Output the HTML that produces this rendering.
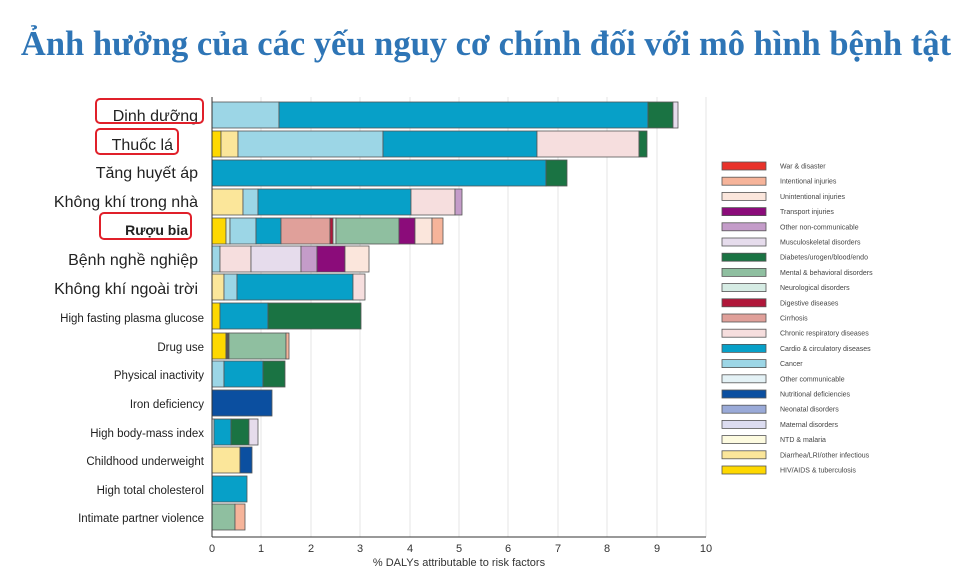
<!DOCTYPE html>
<html><head><meta charset="utf-8"><style>
body{margin:0;background:#fff;width:980px;height:578px;overflow:hidden}
svg{display:block}
</style></head><body>
<svg width="980" height="578" xmlns="http://www.w3.org/2000/svg" font-family="Liberation Sans, sans-serif">
<text x="486" y="55" text-anchor="middle" font-family="Liberation Serif, serif" font-weight="bold" font-size="34.5" fill="#2e75b6">Ảnh hưởng của các yếu nguy cơ chính đối với mô hình bệnh tật</text>
<g stroke="#e4e4e4" stroke-width="1">
<line x1="261" y1="97" x2="261" y2="537"/><line x1="311" y1="97" x2="311" y2="537"/><line x1="360" y1="97" x2="360" y2="537"/><line x1="410" y1="97" x2="410" y2="537"/><line x1="459" y1="97" x2="459" y2="537"/><line x1="508" y1="97" x2="508" y2="537"/><line x1="558" y1="97" x2="558" y2="537"/><line x1="607" y1="97" x2="607" y2="537"/><line x1="657" y1="97" x2="657" y2="537"/><line x1="706" y1="97" x2="706" y2="537"/>
</g>
<g stroke="#555" stroke-width="0.8">
<rect x="212" y="102" width="67" height="26" fill="#9cd6e6"/><rect x="279" y="102" width="369" height="26" fill="#07a0c8"/><rect x="648" y="102" width="25" height="26" fill="#1a7343"/><rect x="673" y="102" width="5" height="26" fill="#e6dcec"/>
<rect x="212" y="131" width="9" height="26" fill="#fed800"/><rect x="221" y="131" width="17" height="26" fill="#fbe69a"/><rect x="238" y="131" width="145" height="26" fill="#9cd6e6"/><rect x="383" y="131" width="154" height="26" fill="#07a0c8"/><rect x="537" y="131" width="102" height="26" fill="#f6dede"/><rect x="639" y="131" width="8" height="26" fill="#1a7343"/>
<rect x="212" y="160" width="334" height="26" fill="#07a0c8"/><rect x="546" y="160" width="21" height="26" fill="#1a7343"/>
<rect x="212" y="189" width="31" height="26" fill="#fbe69a"/><rect x="243" y="189" width="15" height="26" fill="#9cd6e6"/><rect x="258" y="189" width="153" height="26" fill="#07a0c8"/><rect x="411" y="189" width="44" height="26" fill="#f6dede"/><rect x="455" y="189" width="7" height="26" fill="#c49cc9"/>
<rect x="212" y="218" width="14" height="26" fill="#fed800"/><rect x="226" y="218" width="4" height="26" fill="#d6ece4"/><rect x="230" y="218" width="26" height="26" fill="#9cd6e6"/><rect x="256" y="218" width="25" height="26" fill="#07a0c8"/><rect x="281" y="218" width="49" height="26" fill="#e0a09a"/><rect x="330" y="218" width="3" height="26" fill="#b0173a"/><rect x="333" y="218" width="3" height="26" fill="#d6ece4"/><rect x="336" y="218" width="63" height="26" fill="#8fbfa0"/><rect x="399" y="218" width="16" height="26" fill="#8b0c7a"/><rect x="415" y="218" width="17" height="26" fill="#fbe6dc"/><rect x="432" y="218" width="11" height="26" fill="#f6b49a"/>
<rect x="212" y="246" width="8" height="26" fill="#9cd6e6"/><rect x="220" y="246" width="31" height="26" fill="#f6dede"/><rect x="251" y="246" width="50" height="26" fill="#e6dcec"/><rect x="301" y="246" width="16" height="26" fill="#c49cc9"/><rect x="317" y="246" width="28" height="26" fill="#8b0c7a"/><rect x="345" y="246" width="24" height="26" fill="#fbe6dc"/>
<rect x="212" y="274" width="12" height="26" fill="#fbe69a"/><rect x="224" y="274" width="13" height="26" fill="#9cd6e6"/><rect x="237" y="274" width="116" height="26" fill="#07a0c8"/><rect x="353" y="274" width="12" height="26" fill="#f6dede"/>
<rect x="212" y="303" width="8" height="26" fill="#fed800"/><rect x="220" y="303" width="48" height="26" fill="#07a0c8"/><rect x="268" y="303" width="93" height="26" fill="#1a7343"/>
<rect x="212" y="333" width="14" height="26" fill="#fed800"/><rect x="226" y="333" width="3" height="26" fill="#555"/><rect x="229" y="333" width="57" height="26" fill="#8fbfa0"/><rect x="286" y="333" width="3" height="26" fill="#f6b49a"/>
<rect x="212" y="361" width="12" height="26" fill="#9cd6e6"/><rect x="224" y="361" width="39" height="26" fill="#07a0c8"/><rect x="263" y="361" width="22" height="26" fill="#1a7343"/>
<rect x="212" y="390" width="60" height="26" fill="#0b4fa0"/>
<rect x="212" y="419" width="2" height="26" fill="#e4f2f6"/><rect x="214" y="419" width="17" height="26" fill="#07a0c8"/><rect x="231" y="419" width="18" height="26" fill="#1a7343"/><rect x="249" y="419" width="9" height="26" fill="#e6dcec"/>
<rect x="212" y="447" width="28" height="26" fill="#fbe69a"/><rect x="240" y="447" width="12" height="26" fill="#0b4fa0"/>
<rect x="212" y="476" width="35" height="26" fill="#07a0c8"/>
<rect x="212" y="504" width="23" height="26" fill="#8fbfa0"/><rect x="235" y="504" width="10" height="26" fill="#f6b49a"/>
</g>
<line x1="212" y1="97" x2="212" y2="537" stroke="#333"/>
<line x1="212" y1="537" x2="706" y2="537" stroke="#333"/>
<g font-size="11" fill="#333" text-anchor="middle">
<text x="212" y="552">0</text><text x="261" y="552">1</text><text x="311" y="552">2</text><text x="360" y="552">3</text><text x="410" y="552">4</text><text x="459" y="552">5</text><text x="508" y="552">6</text><text x="558" y="552">7</text><text x="607" y="552">8</text><text x="657" y="552">9</text><text x="706" y="552">10</text>
</g>
<text x="459" y="566" font-size="11" fill="#333" text-anchor="middle">% DALYs attributable to risk factors</text>
<g fill="#222" text-anchor="end">
<text x="198" y="121" font-size="16">Dinh dưỡng</text>
<text x="173" y="150" font-size="16">Thuốc lá</text>
<text x="198" y="178" font-size="16">Tăng huyết áp</text>
<text x="198" y="207" font-size="16">Không khí trong nhà</text>
<text x="188" y="235" font-size="14" font-weight="bold">Rượu bia</text>
<text x="198" y="265" font-size="16">Bệnh nghề nghiệp</text>
<text x="198" y="294" font-size="16">Không khí ngoài trời</text>
<text x="204" y="322" font-size="11.5">High fasting plasma glucose</text>
<text x="204" y="351" font-size="11.5">Drug use</text>
<text x="204" y="379" font-size="11.5">Physical inactivity</text>
<text x="204" y="408" font-size="11.5">Iron deficiency</text>
<text x="204" y="437" font-size="11.5">High body-mass index</text>
<text x="204" y="465" font-size="11.5">Childhood underweight</text>
<text x="204" y="494" font-size="11.5">High total cholesterol</text>
<text x="204" y="522" font-size="11.5">Intimate partner violence</text>
</g>
<g fill="none" stroke="#e0202a" stroke-width="2">
<rect x="96" y="99" width="107" height="24" rx="4"/>
<rect x="96" y="129" width="82" height="25" rx="4"/>
<rect x="100" y="213" width="91" height="26" rx="4"/>
</g>
<g stroke="#555" stroke-width="0.8">
<rect x="722" y="162" width="44" height="8" fill="#e8322a"/>
<rect x="722" y="177.2" width="44" height="8" fill="#f6b49a"/>
<rect x="722" y="192.4" width="44" height="8" fill="#fbe6dc"/>
<rect x="722" y="207.6" width="44" height="8" fill="#8b0c7a"/>
<rect x="722" y="222.8" width="44" height="8" fill="#c49cc9"/>
<rect x="722" y="238" width="44" height="8" fill="#e6dcec"/>
<rect x="722" y="253.2" width="44" height="8" fill="#1a7343"/>
<rect x="722" y="268.4" width="44" height="8" fill="#8fbfa0"/>
<rect x="722" y="283.6" width="44" height="8" fill="#d6ece4"/>
<rect x="722" y="298.8" width="44" height="8" fill="#b0173a"/>
<rect x="722" y="314" width="44" height="8" fill="#e0a09a"/>
<rect x="722" y="329.2" width="44" height="8" fill="#f6dede"/>
<rect x="722" y="344.4" width="44" height="8" fill="#07a0c8"/>
<rect x="722" y="359.6" width="44" height="8" fill="#9cd6e6"/>
<rect x="722" y="374.8" width="44" height="8" fill="#e4f2f6"/>
<rect x="722" y="390" width="44" height="8" fill="#0b4fa0"/>
<rect x="722" y="405.2" width="44" height="8" fill="#9aaad8"/>
<rect x="722" y="420.4" width="44" height="8" fill="#dcdcf0"/>
<rect x="722" y="435.6" width="44" height="8" fill="#fdfbe0"/>
<rect x="722" y="450.8" width="44" height="8" fill="#fbe69a"/>
<rect x="722" y="466" width="44" height="8" fill="#fed800"/>
</g>
<g font-size="7" fill="#444">
<text x="780" y="168.5">War &amp; disaster</text>
<text x="780" y="183.7">Intentional injuries</text>
<text x="780" y="198.9">Unintentional injuries</text>
<text x="780" y="214.1">Transport injuries</text>
<text x="780" y="229.3">Other non-communicable</text>
<text x="780" y="244.5">Musculoskeletal disorders</text>
<text x="780" y="259.7">Diabetes/urogen/blood/endo</text>
<text x="780" y="274.9">Mental &amp; behavioral disorders</text>
<text x="780" y="290.1">Neurological disorders</text>
<text x="780" y="305.3">Digestive diseases</text>
<text x="780" y="320.5">Cirrhosis</text>
<text x="780" y="335.7">Chronic respiratory diseases</text>
<text x="780" y="350.9">Cardio &amp; circulatory diseases</text>
<text x="780" y="366.1">Cancer</text>
<text x="780" y="381.3">Other communicable</text>
<text x="780" y="396.5">Nutritional deficiencies</text>
<text x="780" y="411.7">Neonatal disorders</text>
<text x="780" y="426.9">Maternal disorders</text>
<text x="780" y="442.1">NTD &amp; malaria</text>
<text x="780" y="457.3">Diarrhea/LRI/other infectious</text>
<text x="780" y="472.5">HIV/AIDS &amp; tuberculosis</text>
</g>
</svg>
</body></html>
